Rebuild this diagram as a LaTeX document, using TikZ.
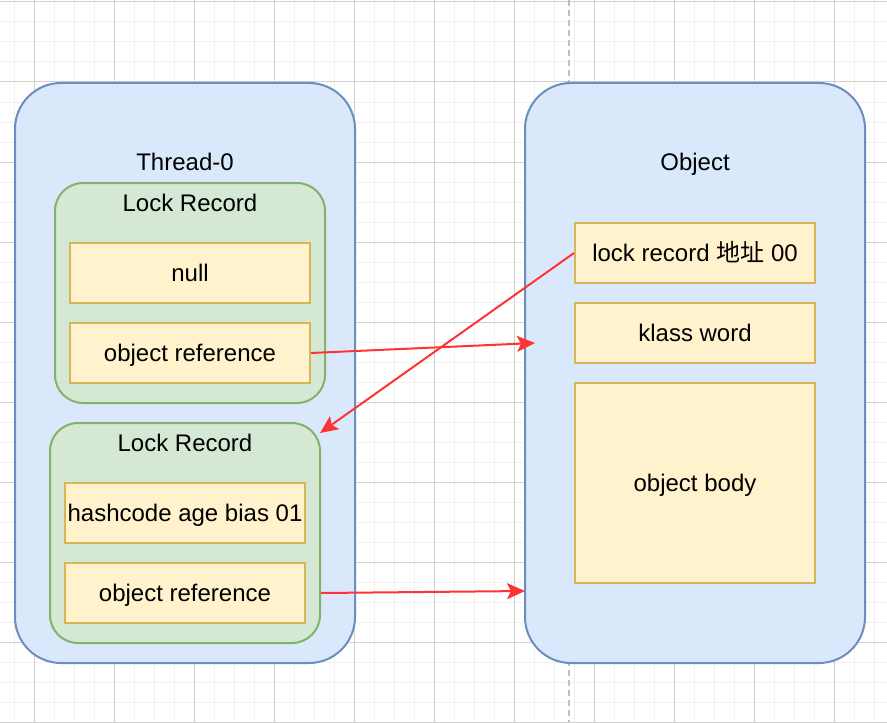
\documentclass[tikz,border=0pt]{standalone}
\usepackage{fontspec}
\setmainfont{Liberation Sans}
\newfontfamily\cjk{Noto Sans CJK SC}
\usetikzlibrary{arrows.meta}
\definecolor{gridminor}{HTML}{F0F0F0}
\definecolor{gridmajor}{HTML}{D0D0D0}
\definecolor{bluefill}{HTML}{DAE8FC}
\definecolor{bluedraw}{HTML}{6C8EBF}
\definecolor{greenfill}{HTML}{D5E8D4}
\definecolor{greendraw}{HTML}{82B366}
\definecolor{yellowfill}{HTML}{FFF2CC}
\definecolor{yellowdraw}{HTML}{D6B656}
\definecolor{linkred}{HTML}{FF3333}
\definecolor{guide}{HTML}{C0C0C0}
\tikzset{
  container/.style={draw=bluedraw, fill=bluefill, line width=1pt, rounded corners=23pt,
    minimum width=170pt, minimum height=290pt, inner sep=0pt},
  record/.style={draw=greendraw, fill=greenfill, line width=1pt, rounded corners=14pt,
    minimum width=135pt, minimum height=110pt, inner sep=0pt},
  field/.style={draw=yellowdraw, fill=yellowfill, line width=1pt,
    minimum width=120pt, minimum height=30pt, inner sep=0pt,
    text height=8.6pt, text depth=0pt},
  caption/.style={inner sep=0pt, text height=8.6pt, text depth=0pt},
  link/.style={draw=linkred, line width=1pt, -{Stealth[length=9pt,width=8pt,inset=2pt]}}
}
\begin{document}
\begin{tikzpicture}[x=0.5pt, y=-0.5pt, font=\fontsize{12}{14}\selectfont]
\useasboundingbox (0,0) rectangle (887,722);
\fill[white] (0,0) rectangle (887,722);
% background grid
\foreach \gx in {14,34,...,887} \draw[gridminor, line width=0.5pt] (\gx,0) -- (\gx,722);
\foreach \gy in {2,22,...,722} \draw[gridminor, line width=0.5pt] (0,\gy) -- (887,\gy);
\foreach \gx in {34,114,...,887} \draw[gridmajor, line width=0.5pt] (\gx,0) -- (\gx,722);
\foreach \gy in {2,82,...,722} \draw[gridmajor, line width=0.5pt] (0,\gy) -- (887,\gy);
% page guide
\draw[guide, line width=1pt, dash pattern=on 3pt off 2pt] (569,0) -- (569,722);

% thread side
\node[container] (thread) at (185,373) {};
\node[caption] (threadlbl) at (185,162) {Thread-0};
\node[record] (rec1) at (190,293) {};
\node[caption] (rec1lbl) at (190,203) {Lock Record};
\node[field] (null) at (190,273) {null};
\node[field] (ref1) at (190,353) {object reference};
\node[record] (rec2) at (185,533) {};
\node[caption] (rec2lbl) at (185,443) {Lock Record};
\node[field] (hash) at (185,513) {hashcode age bias 01};
\node[field] (ref2) at (185,593) {object reference};

% object side
\node[container] (object) at (695,373) {};
\node[caption] (objectlbl) at (695,162) {Object};
\node[field] (mark) at (695,253) {lock record {\cjk 地址} 00};
\node[field] (klass) at (695,333) {klass word};
\node[field, minimum height=100pt] (body) at (695,483) {object body};

% references
\coordinate (objin) at (535,343);
\coordinate (rec2corner) at (320,433);
\coordinate (objedge) at (525,591);
\draw[link] (ref1.east) -- (objin);
\draw[link] (mark.west) -- (rec2corner);
\draw[link] (ref2.east -| rec2.east) -- (objedge);
\end{tikzpicture}
\end{document}
